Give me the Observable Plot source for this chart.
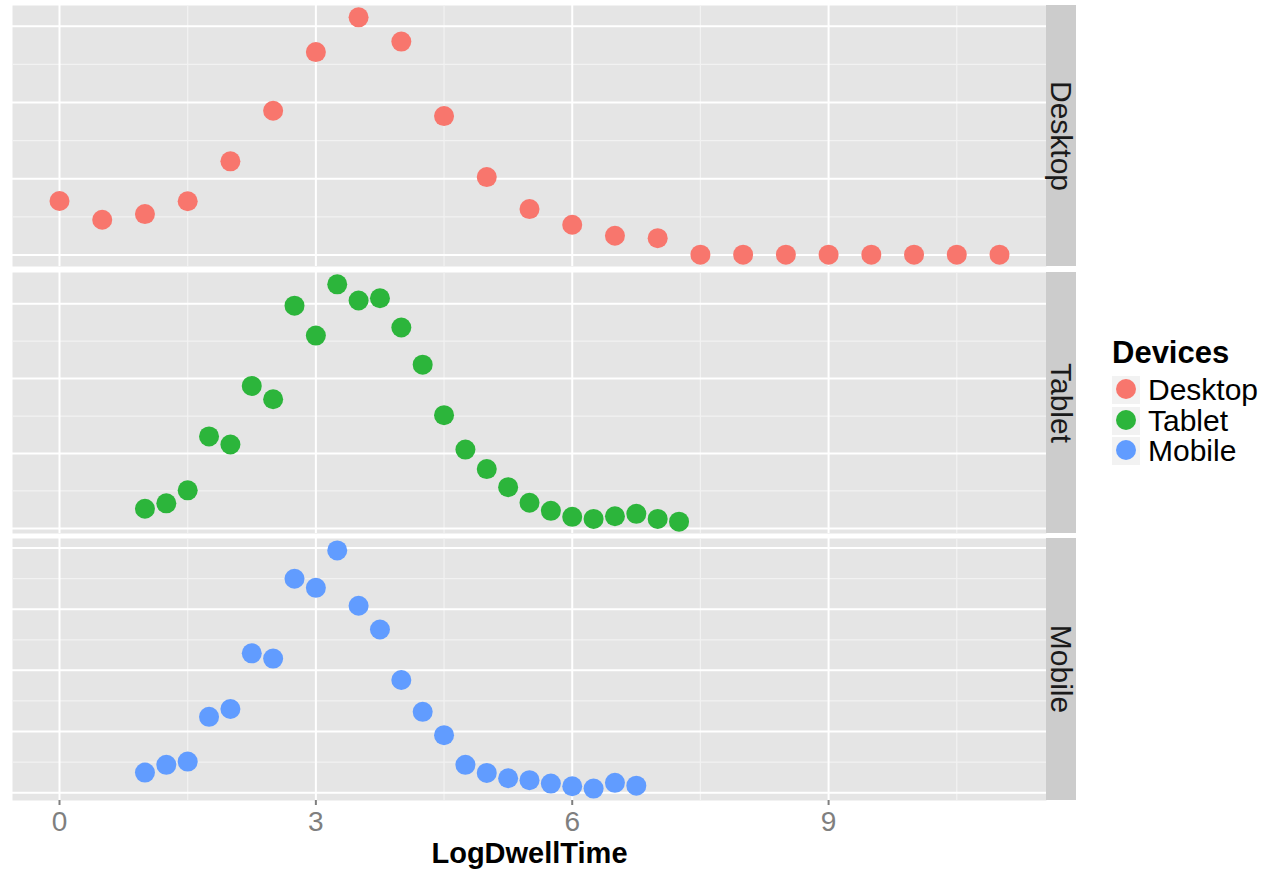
<!DOCTYPE html>
<html><head><meta charset="utf-8">
<script src="https://cdn.jsdelivr.net/npm/d3@7"></script>
<script src="https://cdn.jsdelivr.net/npm/@observablehq/plot@0.6"></script>
<style>
body{margin:0;background:#fff;font-family:"Liberation Sans",Arial,Helvetica,sans-serif;}
#root{position:relative;width:1274px;height:876px;overflow:hidden;}
.panel{position:absolute;left:0;}
.strip{position:absolute;left:1046px;width:30px;background:#cccccc;display:flex;align-items:center;justify-content:center;overflow:visible;}
.strip span{display:block;transform:rotate(90deg);font-size:30px;color:#1a1a1a;white-space:nowrap;line-height:30px;}
.leg{position:absolute;white-space:nowrap;}
</style></head><body><div id="root"></div>
<script>
const devices = ["Desktop", "Tablet", "Mobile"];
const colors = ["#F8766D", "#2CB53B", "#619CFF"];

const desktopX = [0, 0.5, 1, 1.5, 2, 2.5, 3, 3.5, 4, 4.5, 5, 5.5, 6, 6.5, 7, 7.5, 8, 8.5, 9, 9.5, 10, 10.5, 11];
const desktopY = [0.0354, 0.0231, 0.0268, 0.0352, 0.0614, 0.0946, 0.1331, 0.1559, 0.1400, 0.0911, 0.0511, 0.0301, 0.0198, 0.0126, 0.0110, 0.0002, 0.0002, 0.0002, 0.0002, 0.0002, 0.0002, 0.0002, 0.0002];

const tabletX = [1, 1.25, 1.5, 1.75, 2, 2.25, 2.5, 2.75, 3, 3.25, 3.5, 3.75, 4, 4.25, 4.5, 4.75, 5, 5.25, 5.5, 5.75, 6, 6.25, 6.5, 6.75, 7, 7.25];
const tabletY = [0.0131, 0.0167, 0.0254, 0.0614, 0.0560, 0.0951, 0.0862, 0.1487, 0.1287, 0.1629, 0.1521, 0.1536, 0.1341, 0.1093, 0.0756, 0.0526, 0.0396, 0.0275, 0.0171, 0.0117, 0.0077, 0.0063, 0.0081, 0.0097, 0.0063, 0.0045];

const mobileX = [1, 1.25, 1.5, 1.75, 2, 2.25, 2.5, 2.75, 3, 3.25, 3.5, 3.75, 4, 4.25, 4.5, 4.75, 5, 5.25, 5.5, 5.75, 6, 6.25, 6.5, 6.75];
const mobileY = [0.0164, 0.0227, 0.0254, 0.0620, 0.0684, 0.1139, 0.1096, 0.1749, 0.1675, 0.1981, 0.1528, 0.1334, 0.0921, 0.0661, 0.0470, 0.0227, 0.0161, 0.0118, 0.0102, 0.0074, 0.0052, 0.0033, 0.0080, 0.0057];

const xTicks = [0, 3, 6, 9];
const xMinor = [1.5, 4.5, 7.5, 10.5];
const yMajor = [0, 0.05, 0.1, 0.15, 0.2];
const yMinor = [0.025, 0.075, 0.125, 0.175];
const xTitle = "LogDwellTime";
const legendTitle = "Devices";

const series = [[desktopX, desktopY], [tabletX, tabletY], [mobileX, mobileY]];
const tops = [5, 272, 538];
const heights = [261, 261, 262];
const root = document.getElementById("root");
const font = '"Liberation Sans", Arial, Helvetica, sans-serif';

series.forEach(([xs, ys], i) => {
  const device = devices[i];
  const data = xs.map((x, j) => ({x, y: ys[j], device}));
  const [lo, hi] = d3.extent(ys);
  const pad = (hi - lo) * 0.05;
  const dom = [lo - pad, hi + pad];
  const inDom = v => v >= dom[0] && v <= dom[1];
  const last = i === devices.length - 1;
  const mb = last ? 76 : 0;
  const marks = [
    Plot.frame({fill: "#e5e5e5", stroke: null}),
    Plot.gridY(yMinor.filter(inDom), {stroke: "#f2f2f2", strokeOpacity: 1, strokeWidth: 1.2}),
    Plot.gridX(xMinor, {stroke: "#f2f2f2", strokeOpacity: 1, strokeWidth: 1.2}),
    Plot.gridY(yMajor.filter(inDom), {stroke: "#ffffff", strokeOpacity: 1, strokeWidth: 2}),
    Plot.gridX(xTicks, {stroke: "#ffffff", strokeOpacity: 1, strokeWidth: 2}),
    Plot.dot(data, {x: "x", y: "y", fill: "device", r: 10})
  ];
  if (last) {
    marks.push(Plot.axisX(xTicks, {tickSize: 5, tickPadding: 6, fontSize: 28, color: "#7f7f7f", strokeWidth: 2, label: null}));
    marks.push(Plot.text([xTitle], {text: d => d, frameAnchor: "bottom", dy: 62, fontSize: 29, fontWeight: "bold", fill: "#000"}));
  }
  const svg = Plot.plot({
    width: 1046, height: heights[i] + mb,
    marginLeft: 12, marginRight: 0, marginTop: 0, marginBottom: mb,
    x: {domain: [-0.55, 11.55], axis: null},
    y: {domain: dom, axis: null},
    color: {domain: devices, range: colors},
    style: {fontFamily: font, background: "transparent", overflow: "visible"},
    marks
  });
  svg.classList.add("panel");
  svg.style.top = tops[i] + "px";
  root.appendChild(svg);

  const strip = document.createElement("div");
  strip.className = "strip";
  strip.style.top = tops[i] + "px";
  strip.style.height = heights[i] + "px";
  const sp = document.createElement("span");
  sp.textContent = device;
  strip.appendChild(sp);
  root.appendChild(strip);
});

// legend
const lt = document.createElement("div");
lt.className = "leg";
lt.textContent = legendTitle;
Object.assign(lt.style, {left: "1112px", top: "337px", fontSize: "31px", fontWeight: "bold", lineHeight: "32px", color: "#000"});
root.appendChild(lt);
devices.forEach((d, i) => {
  const top = 376 + i * 30.5;
  const key = document.createElement("div");
  Object.assign(key.style, {position: "absolute", left: "1112px", top: top + "px", width: "28px", height: "28px", background: "#f2f2f2"});
  const c = document.createElement("div");
  Object.assign(c.style, {position: "absolute", left: "4px", top: "3px", width: "20px", height: "20px", borderRadius: "50%", background: colors[i]});
  key.appendChild(c);
  root.appendChild(key);
  const lab = document.createElement("div");
  lab.className = "leg";
  lab.textContent = d;
  Object.assign(lab.style, {left: "1148px", top: (top - 1) + "px", fontSize: "30px", lineHeight: "30px", color: "#000"});
  root.appendChild(lab);
});
</script>
</body></html>
